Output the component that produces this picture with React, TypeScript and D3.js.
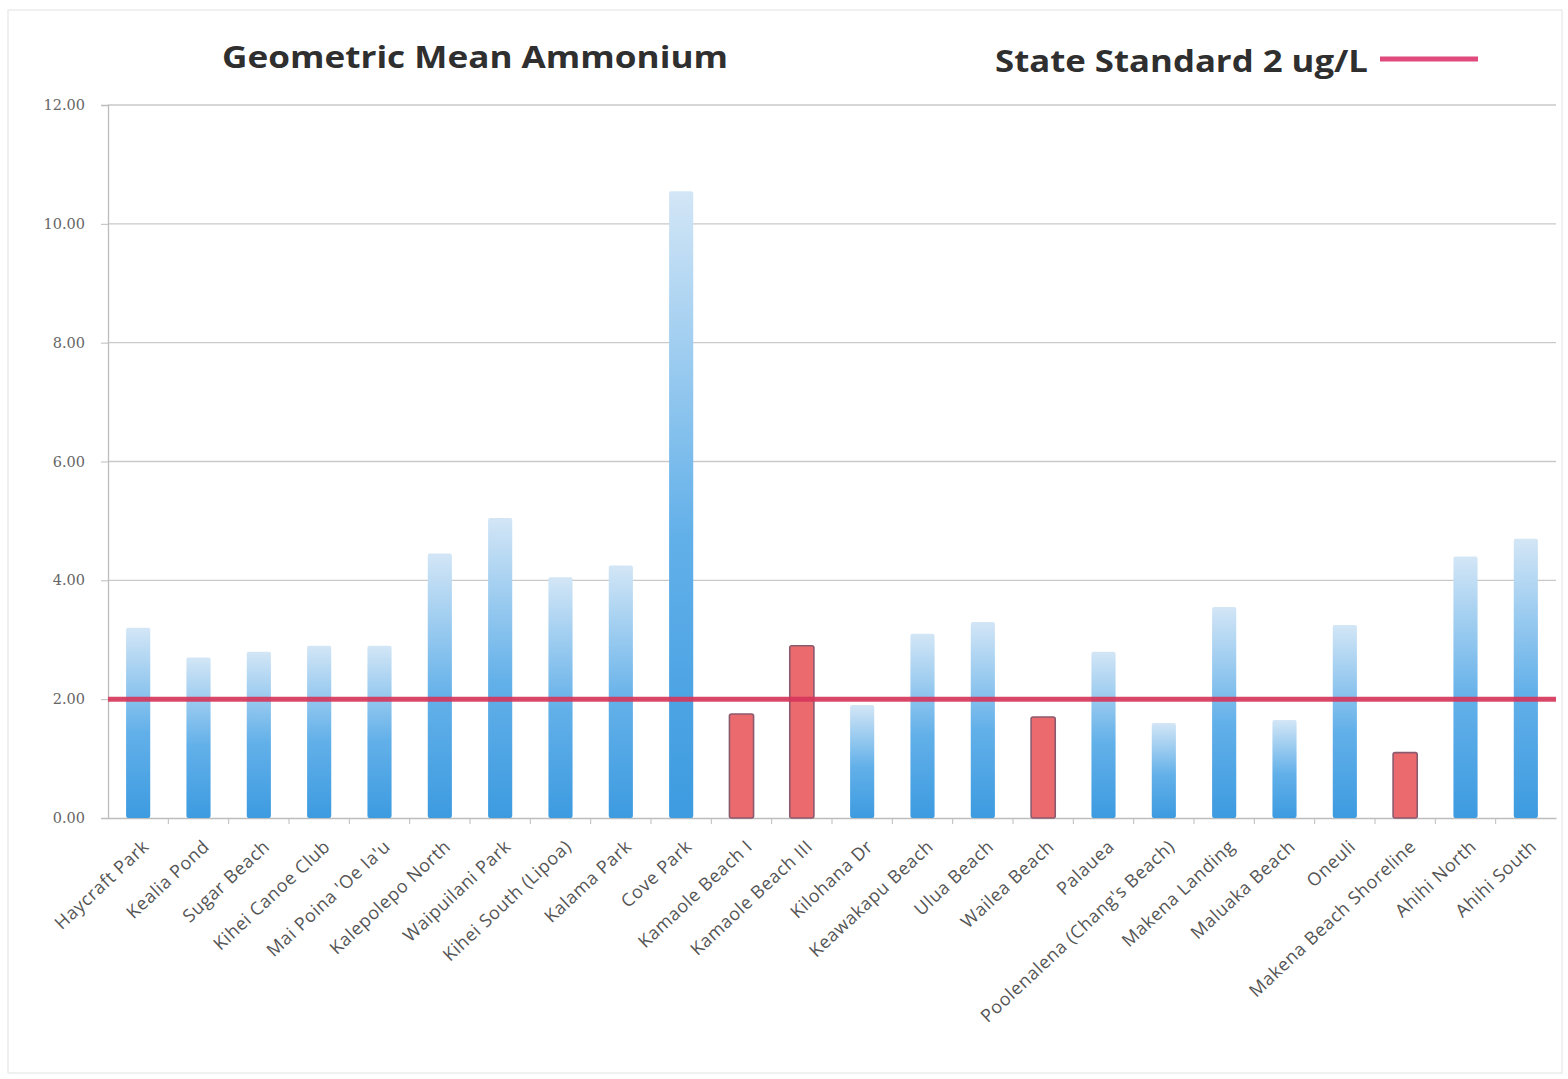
import React, { useEffect, useRef } from "react";
import * as d3 from "d3";

const sites = [
  "Haycraft Park",
  "Kealia Pond",
  "Sugar Beach",
  "Kihei Canoe Club",
  "Mai Poina 'Oe Ia'u",
  "Kalepolepo North",
  "Waipuilani Park",
  "Kihei South (Lipoa)",
  "Kalama Park",
  "Cove Park",
  "Kamaole Beach I",
  "Kamaole Beach III",
  "Kilohana Dr",
  "Keawakapu Beach",
  "Ulua Beach",
  "Wailea Beach",
  "Palauea",
  "Poolenalena (Chang's Beach)",
  "Makena Landing",
  "Maluaka Beach",
  "Oneuli",
  "Makena Beach Shoreline",
  "Ahihi North",
  "Ahihi South",
];

const ammonium = [
  3.2, 2.7, 2.8, 2.9, 2.9, 4.45, 5.05, 4.05, 4.25, 10.55, 1.75, 2.9, 1.9, 3.1,
  3.3, 1.7, 2.8, 1.6, 3.55, 1.65, 3.25, 1.1, 4.4, 4.7,
];

// bars drawn in red in the original
const flagged = [
  "Kamaole Beach I",
  "Kamaole Beach III",
  "Wailea Beach",
  "Makena Beach Shoreline",
];

const yTicks = [0, 2, 4, 6, 8, 10, 12];
const standard = 2;

const W = 1568;
const H = 1079;
const M = { top: 105, right: 12, bottom: 261, left: 108 };

const App: React.FC = () => {
  const svgRef = useRef<SVGSVGElement>(null);

  useEffect(() => {
    document.body.style.margin = "0";
    if (!svgRef.current) return;

    const svg = d3.select(svgRef.current);
    svg.selectAll("*").remove();

    const x = d3
      .scaleBand()
      .domain(sites)
      .range([M.left, W - M.right])
      .paddingInner(0.6)
      .paddingOuter(0.3);

    const y = d3
      .scaleLinear()
      .domain([0, 12])
      .range([H - M.bottom, M.top]);

    const defs = svg.append("defs");
    const blue = defs
      .append("linearGradient")
      .attr("id", "blueGrad")
      .attr("x1", 0)
      .attr("y1", 1)
      .attr("x2", 0)
      .attr("y2", 0);
    blue.append("stop").attr("offset", "0%").attr("stop-color", "#3d9be0");
    blue.append("stop").attr("offset", "45%").attr("stop-color", "#62b0e9");
    blue.append("stop").attr("offset", "100%").attr("stop-color", "#d3e6f6");

    // frame
    svg
      .append("rect")
      .attr("x", 8)
      .attr("y", 10)
      .attr("width", W - 14)
      .attr("height", H - 16)
      .attr("fill", "#fff")
      .attr("stroke", "#e2e2e2");

    // grid
    svg
      .append("g")
      .selectAll("line")
      .data(yTicks.filter((d) => d > 0))
      .join("line")
      .attr("x1", M.left)
      .attr("x2", W - M.right)
      .attr("y1", (d) => y(d))
      .attr("y2", (d) => y(d))
      .attr("stroke", "#c9c9c9")
      .attr("stroke-width", 1.3);

    // y axis
    const yAxis = svg
      .append("g")
      .attr("transform", `translate(${M.left},0)`)
      .call(
        d3
          .axisLeft(y)
          .tickValues(yTicks)
          .tickSize(7)
          .tickPadding(16)
          .tickFormat(d3.format(".2f"))
      );
    yAxis.select(".domain").attr("stroke", "#bdbdbd").attr("stroke-width", 1.3);
    yAxis.selectAll(".tick line").attr("stroke", "#bdbdbd");
    yAxis
      .selectAll("text")
      .attr("fill", "#666")
      .attr("font-family", "DejaVu Serif, serif")
      .attr("font-size", 14.5);

    // x axis
    const xAxis = svg
      .append("g")
      .attr("transform", `translate(0,${y(0)})`)
      .call(d3.axisBottom(x).tickSize(0).tickFormat(() => ""));
    xAxis.select(".domain").attr("stroke", "#bdbdbd").attr("stroke-width", 1.3);
    xAxis
      .append("g")
      .selectAll("line")
      .data(sites.slice(1))
      .join("line")
      .attr("x1", (d) => (x(d) as number) - (x.step() * x.paddingInner()) / 2)
      .attr("x2", (d) => (x(d) as number) - (x.step() * x.paddingInner()) / 2)
      .attr("y1", 0)
      .attr("y2", 6)
      .attr("stroke", "#bdbdbd");

    // bars
    svg
      .append("g")
      .selectAll("rect")
      .data(sites)
      .join("rect")
      .attr("x", (d) => x(d) as number)
      .attr("width", x.bandwidth())
      .attr("y", (d, i) => y(ammonium[i]))
      .attr("height", (d, i) => y(0) - y(ammonium[i]))
      .attr("rx", 2)
      .attr("fill", (d) => (flagged.includes(d) ? "#ea6a6d" : "url(#blueGrad)"))
      .attr("stroke", (d) => (flagged.includes(d) ? "#8c5a6e" : "none"))
      .attr("stroke-width", 1.6);

    // standard line
    svg
      .append("line")
      .attr("x1", M.left)
      .attr("x2", W - M.right)
      .attr("y1", y(standard))
      .attr("y2", y(standard))
      .attr("stroke", "#d6345a")
      .attr("stroke-width", 5)
      .attr("stroke-opacity", 0.9);

    // category labels
    svg
      .append("g")
      .selectAll("text")
      .data(sites)
      .join("text")
      .attr(
        "transform",
        (d) =>
          `translate(${(x(d) as number) + x.bandwidth() / 2 + 12},${y(0) + 30}) rotate(-43)`
      )
      .attr("text-anchor", "end")
      .attr("fill", "#555")
      .attr("font-family", "Open Sans, sans-serif")
      .attr("font-size", 18)
      .attr("letter-spacing", 0.6)
      .text((d) => d);

    // title
    svg
      .append("text")
      .attr("x", 222)
      .attr("y", 68)
      .attr("fill", "#2f2f2f")
      .attr("font-family", "Open Sans, sans-serif")
      .attr("font-weight", 700)
      .attr("font-size", 31)
      .attr("textLength", 506)
      .attr("lengthAdjust", "spacingAndGlyphs")
      .text("Geometric Mean Ammonium");

    // legend
    svg
      .append("text")
      .attr("x", 995)
      .attr("y", 72)
      .attr("fill", "#2f2f2f")
      .attr("font-family", "Open Sans, sans-serif")
      .attr("font-weight", 700)
      .attr("font-size", 31)
      .attr("textLength", 373)
      .attr("lengthAdjust", "spacingAndGlyphs")
      .text("State Standard 2 ug/L");
    svg
      .append("line")
      .attr("x1", 1380)
      .attr("x2", 1478)
      .attr("y1", 59)
      .attr("y2", 59)
      .attr("stroke", "#e04a7c")
      .attr("stroke-width", 5);
  }, []);

  return <svg ref={svgRef} width={W} height={H} style={{ display: "block" }}></svg>;
};

export default App;
